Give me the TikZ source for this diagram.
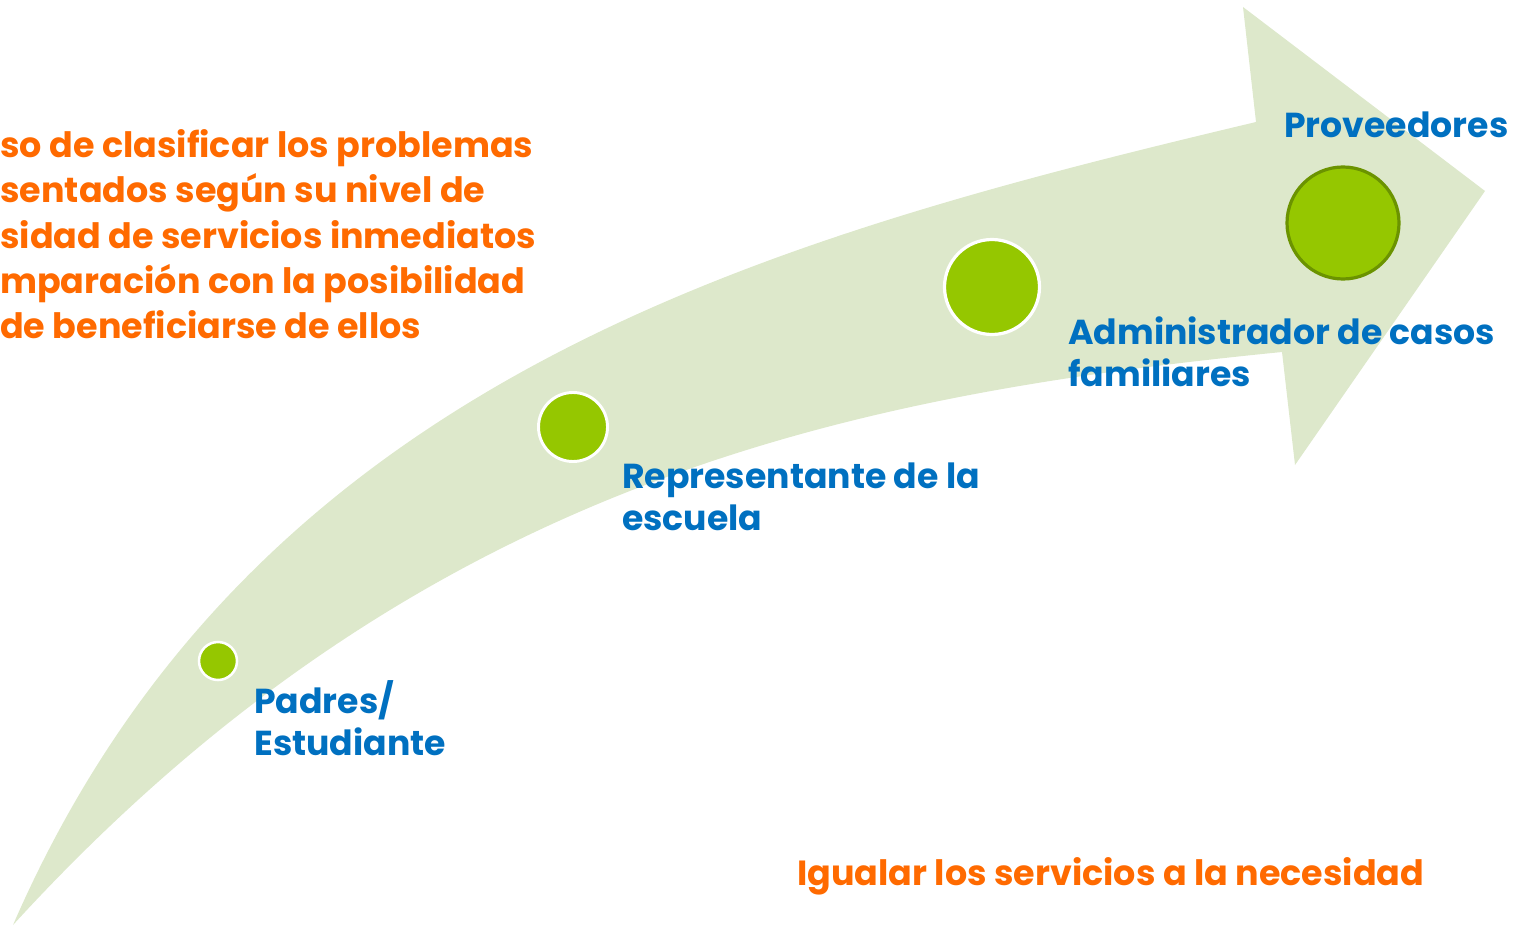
\documentclass[tikz,border=0pt]{standalone}
\usepackage{fontspec}
\setmainfont{Poppins}
\definecolor{band}{HTML}{DDE8CB}
\definecolor{dot}{HTML}{95C700}
\definecolor{dotedge}{HTML}{6B9300}
\definecolor{lblue}{HTML}{0070C0}
\definecolor{lorange}{HTML}{FF6A00}
\begin{document}
\begin{tikzpicture}[x=0.75pt,y=-0.75pt,
  dotnode/.style={circle,fill=dot,draw=white,inner sep=0pt},
  bluelbl/.style={text=lblue,font=\fontsize{26}{31.5}\selectfont\bfseries,align=left,anchor=base west,inner sep=0pt},
  orangelbl/.style={text=lorange,font=\fontsize{26.2}{33.75}\selectfont\bfseries,align=left,anchor=base west,inner sep=0pt}]
\path[use as bounding box] (0,0) rectangle (1527,927);
\fill[band] (13,925) .. controls (250,380) and (760,240) .. (1256,122) -- (1243,7) -- (1485,191) -- (1295,465) -- (1282,352) .. controls (850,395) and (420,480) .. (13,925) -- cycle;
\node[dotnode,minimum size=28.5pt,line width=1.9pt] (d1) at (218,661) {};
\node[dotnode,minimum size=51.75pt,line width=2.2pt] (d2) at (573,427) {};
\node[dotnode,minimum size=71.25pt,line width=2.4pt] (d3) at (992,287) {};
\node[dotnode,draw=dotedge,minimum size=84pt,line width=2.4pt] (d4) at (1343,223) {};
\node[bluelbl] (t1) at (254,755) {Padres/\\Estudiante};
\node[bluelbl] (t2) at (622,530) {Representante de la\\escuela};
\node[bluelbl] (t3) at (1068,386) {Administrador de casos\\familiares};
\node[bluelbl] (t4) at (1284,138) {Proveedores};
\node[orangelbl] (o1) at (0,338) {so de clasificar los problemas\\sentados según su nivel de\\sidad de servicios inmediatos\\mparación con la posibilidad\\de beneficiarse de ellos};
\node[orangelbl] (o2) at (797,885) {Igualar los servicios a la necesidad};
\end{tikzpicture}
\end{document}
